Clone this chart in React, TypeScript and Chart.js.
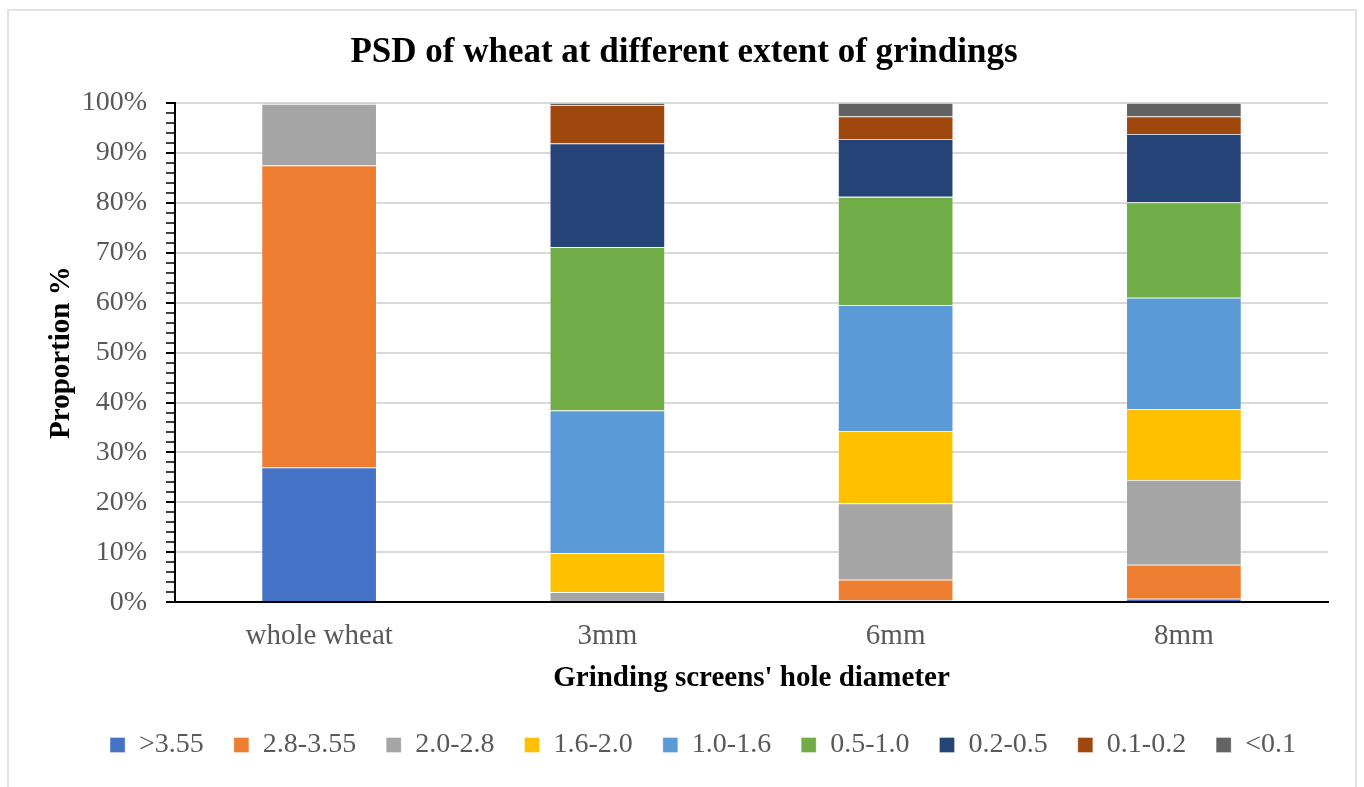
import React, { useEffect, useRef } from 'react';
import { Chart, registerables } from 'chart.js';

Chart.register(...registerables);

const FONT = "'Liberation Serif', 'Times New Roman', serif";

const chartTitle = 'PSD of wheat at different extent of grindings';
const xAxisTitle = "Grinding screens' hole diameter";
const yAxisTitle = 'Proportion %';

const categories = ['whole wheat', '3mm', '6mm', '8mm'];

const seriesLabels = ['>3.55', '2.8-3.55', '2.0-2.8', '1.6-2.0', '1.0-1.6', '0.5-1.0', '0.2-0.5', '0.1-0.2', '<0.1'];
const seriesColors = ['#4472C4', '#ED7D31', '#A5A5A5', '#FFC000', '#5B9BD5', '#70AD47', '#264478', '#9E480E', '#636363'];

const gt355 = [27.0, 0, 0.4, 0.7];
const s28to355 = [60.5, 0, 4.1, 6.8];
const s20to28 = [12.3, 2.0, 15.3, 17.0];
const s16to20 = [0.2, 7.8, 14.5, 14.2];
const s10to16 = [0, 28.6, 25.2, 22.3];
const s05to10 = [0, 32.7, 21.7, 19.1];
const s02to05 = [0, 20.8, 11.6, 13.7];
const s01to02 = [0, 7.7, 4.5, 3.5];
const lt01 = [0, 0.4, 2.7, 2.7];

const seriesValues = [gt355, s28to355, s20to28, s16to20, s10to16, s05to10, s02to05, s01to02, lt01];

const yMin = 0;
const yMax = 100;
const yMinorStep = 2;
const yMajorStep = 10;

const legendShift = {
  id: 'legendShift',
  afterLayout(chart: any) {
    const lg = chart.legend;
    if (lg) {
      lg.left += 19;
      lg.right += 19;
    }
  },
};

export default function App() {
  const canvasRef = useRef<HTMLCanvasElement>(null);

  useEffect(() => {
    const canvas = canvasRef.current;
    if (!canvas) return;
    const chart = new Chart(canvas, {
      type: 'bar',
      data: {
        labels: categories,
        datasets: seriesValues.map((vals, i) => ({
          label: seriesLabels[i],
          data: vals,
          backgroundColor: seriesColors[i],
          borderColor: 'rgba(255,255,255,0.4)',
          borderWidth: 0.8,
          barPercentage: 0.4,
          categoryPercentage: 1,
        })),
      },
      plugins: [legendShift],
      options: {
        responsive: false,
        animation: false,
        devicePixelRatio: 1,
        layout: { padding: { left: 40, right: 36, top: 0, bottom: 18 } },
        plugins: {
          title: {
            display: true,
            text: chartTitle,
            color: '#000',
            font: { family: FONT, size: 35, weight: 'bold' },
            padding: { top: 32, bottom: 29 },
          },
          legend: {
            position: 'bottom',
            labels: {
              boxWidth: 15,
              boxHeight: 15,
              padding: 30,
              color: '#595959',
              font: { family: FONT, size: 28 },
            },
          },
          tooltip: { enabled: false },
        },
        scales: {
          x: {
            stacked: true,
            afterFit: (s: any) => { s.height = 98.8; },
            grid: { display: false, drawTicks: false },
            border: { color: '#000', width: 2 },
            ticks: { color: '#595959', font: { family: FONT, size: 29 }, padding: 17 },
            title: {
              display: true,
              text: xAxisTitle,
              color: '#000',
              font: { family: FONT, size: 29, weight: 'bold' },
              padding: { top: 0, bottom: 5 },
            },
          },
          y: {
            stacked: true,
            min: yMin,
            max: yMax,
            afterFit: (s: any) => { s.width = 135; },
            ticks: {
              stepSize: yMinorStep,
              autoSkip: false,
              color: '#595959',
              font: { family: FONT, size: 28 },
              padding: 19,
              callback: (v: any) => (Number(v) % yMajorStep === 0 ? `${v}%` : ''),
            },
            grid: {
              color: (ctx: any) => (ctx.tick && ctx.tick.value % yMajorStep === 0 ? '#d9d9d9' : 'rgba(0,0,0,0)'),
              lineWidth: 2,
              tickColor: '#000',
              tickLength: 9,
              tickWidth: (ctx: any) => (ctx.tick && ctx.tick.value % yMajorStep === 0 ? 2 : 1.5),
            },
            border: { color: '#000', width: 2 },
            title: {
              display: true,
              text: yAxisTitle,
              color: '#000',
              font: { family: FONT, size: 29, weight: 'bold' },
              padding: { top: 4, bottom: 0 },
            },
          },
        },
      },
    });
    return () => chart.destroy();
  }, []);

  return (
    <div style={{ position: 'fixed', left: 0, top: 0, width: 1364, height: 787, background: '#fff', overflow: 'hidden' }}>
      <div
        style={{
          position: 'absolute',
          left: 7,
          top: 9,
          width: 1346,
          height: 800,
          border: '2px solid #e3e3e3',
        }}
      />
      <canvas ref={canvasRef} width={1364} height={787} style={{ position: 'absolute', left: 0, top: 0 }} />
    </div>
  );
}
